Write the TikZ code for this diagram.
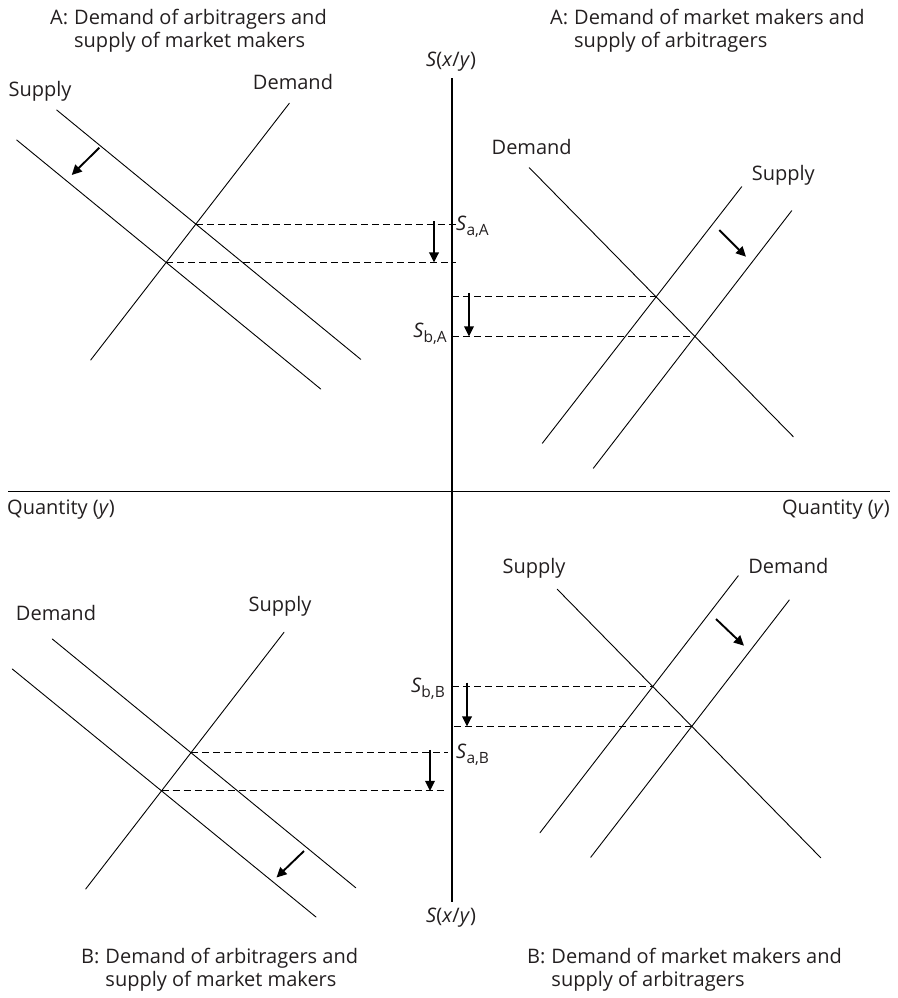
\documentclass[tikz,border=0pt]{standalone}
\usepackage{fontspec}
\setmainfont{Open Sans}
\usetikzlibrary{arrows.meta}
\definecolor{ink}{RGB}{35,31,32}
\tikzset{
  curve/.style={line width=0.9pt, line cap=round},
  axisline/.style={line width=1.2pt},
  dashline/.style={line width=1pt, dash pattern=on 7pt off 4pt},
  shiftarrow/.style={line width=1.9pt, -{Triangle[length=10pt,width=9.5pt]}},
  lbl/.style={inner sep=0pt, text=ink, font=\fontsize{20}{23}\selectfont},
  ttl/.style={inner sep=0pt, anchor=west, text=ink, font=\fontsize{20}{23}\selectfont},
}
\newcommand{\subS}[1]{\textit{S}\raisebox{-0.45ex}{\fontsize{15.5}{16}\selectfont #1}}
\newcommand{\ttlbox}[3]{\begin{tabular}{@{}l@{}l@{}}#1:\kern0.3em & #2\\ & #3\end{tabular}}
\begin{document}
\begin{tikzpicture}[x=1pt,y=-1pt]
\useasboundingbox (0,0) rectangle (897,998);
% axes
\coordinate (yt) at (452,78);
\coordinate (yb) at (452,902);
\coordinate (xl) at (8,491.5);
\coordinate (xr) at (890,491.5);
\draw[axisline] (yt) -- (yb);
\draw[axisline] (xl) -- (xr);
\node[lbl] (stop) at (451,62) {\textit{S}(\textit{x}/\textit{y})};
\node[lbl] (sbot) at (451,918) {\textit{S}(\textit{x}/\textit{y})};
\node[lbl, anchor=west] (qleft) at (7,510) {Quantity (\textit{y})};
\node[lbl, anchor=east] (qright) at (890,510) {Quantity (\textit{y})};

% titles
\node[ttl] (tA1) at (50,31.5) {\ttlbox{A}{Demand of arbitragers and}{supply of market makers}};
\node[ttl] (tA2) at (550,31.5) {\ttlbox{A}{Demand of market makers and}{supply of arbitragers}};
\node[ttl] (tB1) at (81,970) {\ttlbox{B}{Demand of arbitragers and}{supply of market makers}};
\node[ttl] (tB2) at (527,970) {\ttlbox{B}{Demand of market makers and}{supply of arbitragers}};

% ---------- top-left panel ----------
\coordinate (a1) at (56.7,110);  \coordinate (a2) at (360.7,359.3);
\coordinate (b1) at (16.7,140);  \coordinate (b2) at (320.7,389);
\coordinate (c1) at (90.7,360);  \coordinate (c2) at (289.3,103.3);
\draw[curve] (a1) -- (a2);
\draw[curve] (b1) -- (b2);
\draw[curve] (c1) -- (c2);
\coordinate (iA1) at (intersection of a1--a2 and c1--c2);
\coordinate (iA2) at (intersection of b1--b2 and c1--c2);
\draw[dashline] (iA1) -- ([xshift=4pt]iA1 -| yt);
\draw[dashline] (iA2) -- ([xshift=4pt]iA2 -| yt);
\coordinate (arA1) at (99.3,147.7); \coordinate (arA2) at (71.7,175);
\draw[shiftarrow] (arA1) -- (arA2);
\coordinate (vA1) at ([xshift=-18pt,yshift=3pt]iA1 -| yt);
\coordinate (vA2) at ([xshift=-18pt]iA2 -| yt);
\draw[shiftarrow] (vA1) -- (vA2);
\node[lbl] (lsA) at (40,91.7) {Supply};
\node[lbl] (ldA) at (293,81.7) {Demand};
\node[lbl, anchor=west] (saA) at (456,227) {\subS{a,A}};

% ---------- top-right panel ----------
\coordinate (d1) at (529.3,167.7); \coordinate (d2) at (793.3,436.7);
\coordinate (e1) at (741.7,186.7); \coordinate (e2) at (542.3,443.3);
\coordinate (f1) at (791.7,210.7); \coordinate (f2) at (593.3,468.3);
\draw[curve] (d1) -- (d2);
\draw[curve] (e1) -- (e2);
\draw[curve] (f1) -- (f2);
\coordinate (iB1) at (intersection of d1--d2 and e1--e2);
\coordinate (iB2) at (intersection of d1--d2 and f1--f2);
\draw[dashline] (iB1 -| yt) -- (iB1);
\draw[dashline] (iB2 -| yt) -- (iB2);
\coordinate (arB1) at (719.3,230); \coordinate (arB2) at (746,256.7);
\draw[shiftarrow] (arB1) -- (arB2);
\coordinate (vB1) at ([xshift=17pt,yshift=4pt]iB1 -| yt);
\coordinate (vB2) at ([xshift=17pt]iB2 -| yt);
\draw[shiftarrow] (vB1) -- (vB2);
\node[lbl] (ldB) at (531.7,146.7) {Demand};
\node[lbl] (lsB) at (783.3,175) {Supply};
\node[lbl, anchor=east] (sbA) at (447,334) {\subS{b,A}};

% ---------- bottom-left panel ----------
\coordinate (g1) at (52.3,639);  \coordinate (g2) at (355.7,887.7);
\coordinate (h1) at (12.3,669);  \coordinate (h2) at (316,917);
\coordinate (k1) at (85.7,889);  \coordinate (k2) at (284,632.3);
\draw[curve] (g1) -- (g2);
\draw[curve] (h1) -- (h2);
\draw[curve] (k1) -- (k2);
\coordinate (iC1) at (intersection of g1--g2 and k1--k2);
\coordinate (iC2) at (intersection of h1--h2 and k1--k2);
\draw[dashline] (iC1) -- ([xshift=-4pt]iC1 -| yt);
\draw[dashline] (iC2) -- ([xshift=-5pt]iC2 -| yt);
\coordinate (arC1) at (304,851); \coordinate (arC2) at (276.5,877.5);
\draw[shiftarrow] (arC1) -- (arC2);
\coordinate (vC1) at ([xshift=-22pt,yshift=3pt]iC1 -| yt);
\coordinate (vC2) at ([xshift=-22pt]iC2 -| yt);
\draw[shiftarrow] (vC1) -- (vC2);
\node[lbl] (ldC) at (56,613.3) {Demand};
\node[lbl] (lsC) at (280,606.7) {Supply};
\node[lbl, anchor=east] (sbB) at (445,689) {\subS{b,B}};

% ---------- bottom-right panel ----------
\coordinate (m1) at (557.3,589.3); \coordinate (m2) at (820.7,857.7);
\coordinate (n1) at (738.3,575.7); \coordinate (n2) at (540,832.7);
\coordinate (p1) at (789.3,600);   \coordinate (p2) at (590.7,857.3);
\draw[curve] (m1) -- (m2);
\draw[curve] (n1) -- (n2);
\draw[curve] (p1) -- (p2);
\coordinate (iD1) at (intersection of m1--m2 and n1--n2);
\coordinate (iD2) at (intersection of m1--m2 and p1--p2);
\draw[dashline] (iD1 -| yt) -- (iD1);
\draw[dashline] ([xshift=2pt]iD2 -| yt) -- (iD2);
\coordinate (arD1) at (716,619); \coordinate (arD2) at (744,645.7);
\draw[shiftarrow] (arD1) -- (arD2);
\coordinate (vD1) at ([xshift=15pt,yshift=4pt]iD1 -| yt);
\coordinate (vD2) at ([xshift=15pt]iD2 -| yt);
\draw[shiftarrow] (vD1) -- (vD2);
\node[lbl] (lsD) at (534,568.3) {Supply};
\node[lbl] (ldD) at (788.3,566) {Demand};
\node[lbl, anchor=west] (saB) at (456,755) {\subS{a,B}};
\end{tikzpicture}
\end{document}
